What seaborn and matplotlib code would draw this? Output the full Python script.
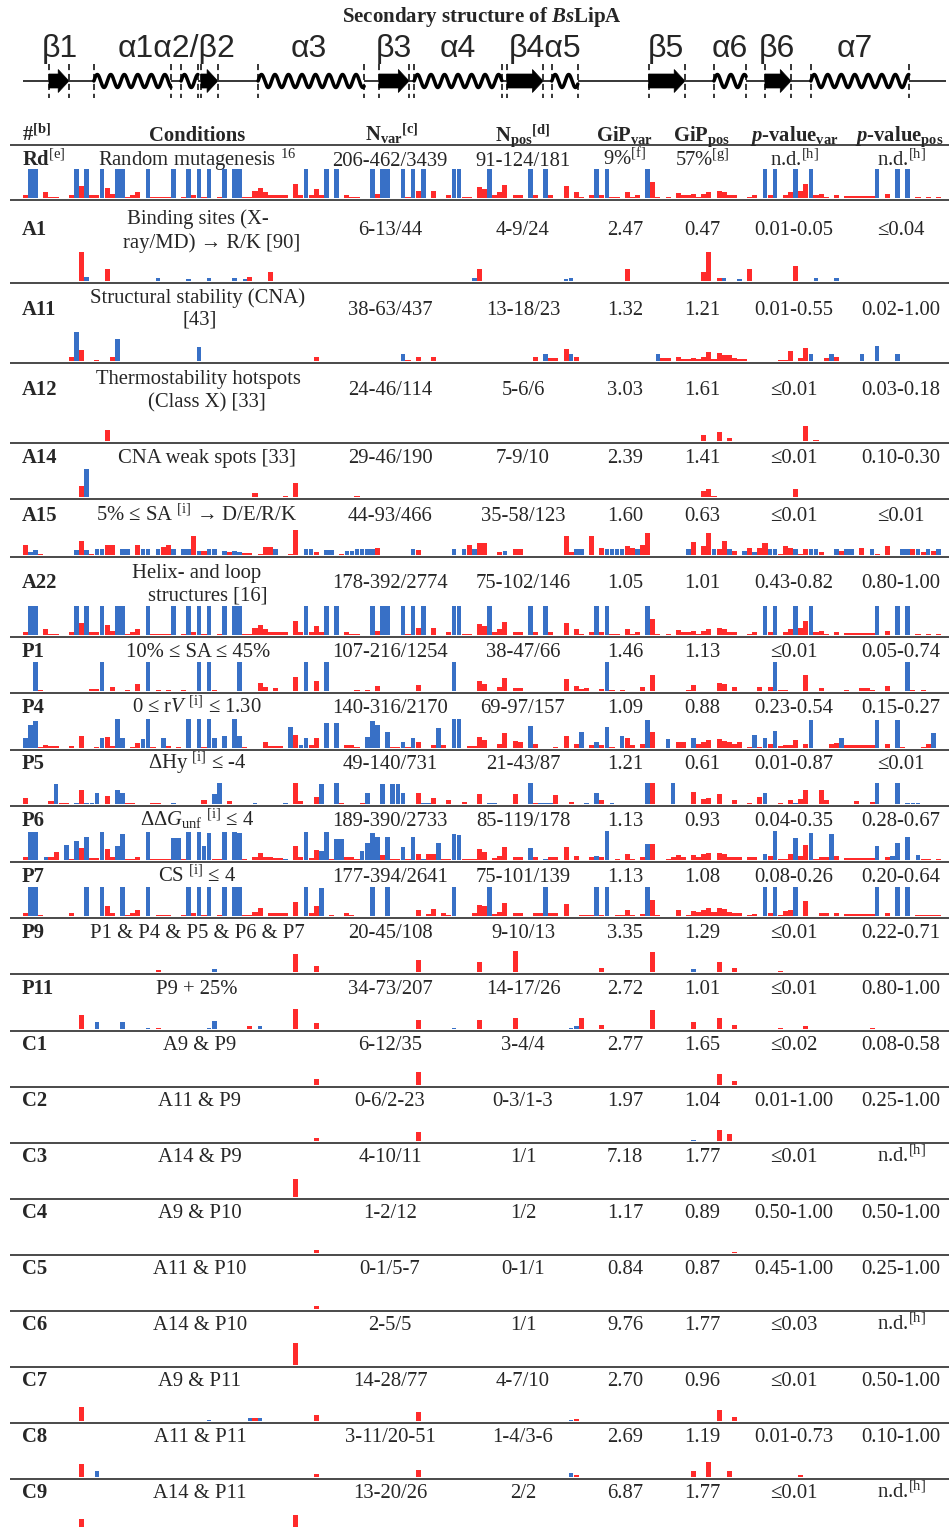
import numpy as np
import pandas as pd
import matplotlib
matplotlib.use("Agg")
import matplotlib.pyplot as plt
import seaborn as sns
from matplotlib.patches import Polygon

W, H = 949, 1527
sns.set_theme(style="white")
plt.rcParams["font.family"] = ["Liberation Serif", "DejaVu Serif"]
plt.rcParams["mathtext.fontset"] = "custom"
plt.rcParams["mathtext.rm"] = "Liberation Serif"
plt.rcParams["mathtext.it"] = "Liberation Serif:italic"
plt.rcParams["mathtext.bf"] = "Liberation Serif:bold"
HAS_BFIT = "mathtext.bfit" in matplotlib.rcParams.keys()
if HAS_BFIT:
    plt.rcParams["mathtext.bfit"] = "Liberation Serif:italic:bold"
PIT = r"\mathbfit{p}" if HAS_BFIT else r"\mathit{p}"
BSIT = r"\mathbfit{Bs}" if HAS_BFIT else r"\mathit{Bs}"

RED = "#FF2B2B"
BLUE = "#3870C6"
N_RES = 181
RESIDUES = np.arange(1, N_RES + 1)

# ---------------- secondary structure (residue numbers) ----------------
SS_TYPE = ["E", "H", "H", "E", "H", "E", "H", "E", "H", "E", "H", "E", "H"]
SS_START = [5.6, 14.4, 31.5, 35.4, 46.6, 70.3, 77.2, 95.4, 104.2, 123.2, 136.0, 146.0, 155.0]
SS_END = [9.5, 29.5, 34.8, 38.7, 67.4, 76.2, 94.4, 102.5, 109.3, 130.3, 142.3, 151.1, 174.2]
SS_LABELS = ["β1", "α1α2/β2", "α3", "β3", "α4", "β4α5", "β5", "α6", "β6", "α7"]
SS_LABEL_X = [60, 177, 309, 394, 458, 545, 666, 730, 777, 855]

# ---------------- table text ----------------
ROW_IDS = ["Rd", "A1", "A11", "A12", "A14", "A15", "A22", "P1", "P4", "P5", "P6", "P7",
           "P9", "P11", "C1", "C2", "C3", "C4", "C5", "C6", "C7", "C8", "C9"]
ROW_ID_SUP = ["[e]"] + [""] * 22
CONDITIONS = [
    [r"Random mutagenesis $^{\mathrm{16}}$"],
    ["Binding sites (X-", "ray/MD) → R/K [90]"],
    ["Structural stability (CNA)", "[43]"],
    ["Thermostability hotspots", "(Class X) [33]"],
    ["CNA weak spots [33]"],
    [r"5% ≤ SA $^{\mathrm{[i]}}$ → D/E/R/K"],
    ["Helix- and loop", "structures [16]"],
    ["10% ≤ SA ≤ 45%"],
    [r"0 ≤ r$\mathit{V}$ $^{\mathrm{[i]}}$ ≤ 1.30"],
    [r"ΔHy $^{\mathrm{[i]}}$ ≤ -4"],
    [r"ΔΔ$\mathit{G}_{\mathrm{unf}}$ $^{\mathrm{[i]}}$ ≤ 4"],
    [r"CS $^{\mathrm{[i]}}$ ≤ 4"],
    ["P1 & P4 & P5 & P6 & P7"],
    ["P9 + 25%"],
    ["A9 & P9"], ["A11 & P9"], ["A14 & P9"], ["A9 & P10"], ["A11 & P10"],
    ["A14 & P10"], ["A9 & P11"], ["A11 & P11"], ["A14 & P11"],
]
ND = r"n.d.$^{\mathrm{[h]}}$"
N_VAR = ["206-462/3439", "6-13/44", "38-63/437", "24-46/114", "29-46/190", "44-93/466",
         "178-392/2774", "107-216/1254", "140-316/2170", "49-140/731", "189-390/2733",
         "177-394/2641", "20-45/108", "34-73/207", "6-12/35", "0-6/2-23", "4-10/11",
         "1-2/12", "0-1/5-7", "2-5/5", "14-28/77", "3-11/20-51", "13-20/26"]
N_POS = ["91-124/181", "4-9/24", "13-18/23", "5-6/6", "7-9/10", "35-58/123", "75-102/146",
         "38-47/66", "69-97/157", "21-43/87", "85-119/178", "75-101/139", "9-10/13",
         "14-17/26", "3-4/4", "0-3/1-3", "1/1", "1/2", "0-1/1", "1/1", "4-7/10",
         "1-4/3-6", "2/2"]
GIP_VAR = [r"9%$^{\mathrm{[f]}}$", "2.47", "1.32", "3.03", "2.39", "1.60", "1.05", "1.46", "1.09",
           "1.21", "1.13", "1.13", "3.35", "2.72", "2.77", "1.97", "7.18", "1.17", "0.84",
           "9.76", "2.70", "2.69", "6.87"]
GIP_POS = [r"57%$^{\mathrm{[g]}}$", "0.47", "1.21", "1.61", "1.41", "0.63", "1.01", "1.13", "0.88",
           "0.61", "0.93", "1.08", "1.29", "1.01", "1.65", "1.04", "1.77", "0.89", "0.87",
           "1.77", "0.96", "1.19", "1.77"]
P_VAR = [ND, "0.01-0.05", "0.01-0.55", "≤0.01", "≤0.01", "≤0.01", "0.43-0.82",
         "≤0.01", "0.23-0.54", "0.01-0.87", "0.04-0.35", "0.08-0.26", "≤0.01", "≤0.01",
         "≤0.02", "0.01-1.00", "≤0.01", "0.50-1.00", "0.45-1.00", "≤0.03", "≤0.01",
         "0.01-0.73", "≤0.01"]
P_POS = [ND, "≤0.04", "0.02-1.00", "0.03-0.18", "0.10-0.30", "≤0.01", "0.80-1.00",
         "0.05-0.74", "0.15-0.27", "≤0.01", "0.28-0.67", "0.20-0.64", "0.22-0.71",
         "0.80-1.00", "0.08-0.58", "0.25-1.00", ND, "0.50-1.00", "0.25-1.00",
         ND, "0.50-1.00", "0.10-1.00", ND]

# ---------------- per-residue bar heights (residue, relative height) ----------------
RD_BLUE = [(r, 1.0) for r in [2, 3, 11, 13, 16, 19, 20, 25, 30, 33, 35, 37, 40, 42, 43, 56, 60,
                               62, 69, 71, 72, 75, 77, 79, 85, 86, 92, 100, 103, 113, 115, 123,
                               146, 148, 152, 155, 168, 172, 174]]
RD_RED = [(1, .1), (5, .2), (6, .05), (7, .05), (10, .1), (12, .4), (14, .1), (15, .1), (17, .35),
          (18, .15), (21, .05), (22, .1), (23, .22), (26, .03), (27, .03), (28, .03), (29, .03),
          (32, .05), (34, .1), (36, .05), (39, .05), (44, .05), (45, .05), (46, .25), (47, .35),
          (48, .2), (49, .1), (50, .1), (51, .1), (52, .1), (54, .48), (55, .1), (57, .1),
          (58, .3), (59, .1), (64, .1), (65, .05), (66, .05), (70, .15), (76, .05), (78, .25),
          (81, .25), (84, .1), (87, .05), (88, .05), (90, .37), (91, .3), (93, .1), (94, .2),
          (95, .45), (97, .1), (98, .1), (101, .1), (104, .1), (107, .4), (109, .2), (110, .05),
          (112, .1), (114, .1), (116, .05), (117, .05), (119, .2), (120, .05), (121, .1),
          (124, .55), (125, .05), (127, .05), (129, .17), (130, .1), (131, .1), (132, .15),
          (133, .05), (134, .15), (135, .2), (137, .25), (138, .2), (139, .1), (140, .1),
          (143, .05), (144, .1), (147, .1), (150, .1), (151, .2), (153, .25), (154, .5),
          (156, .1), (157, .15), (158, .05), (160, .1), (162, .06), (163, .06), (164, .06),
          (165, .08), (166, .06), (167, .06), (170, .15), (176, .05), (178, .05), (180, .03)]
A1_BLUE = [(13, .13), (27, .1), (33, .07), (37, .1), (42, .1), (44, .07), (89, .1), (107, .07),
           (108, .1), (138, .1), (141, .07), (156, .1), (160, .1)]
A1_RED = [(12, 1.0), (17, .42), (45, .13), (49, .31), (90, .42), (119, .42), (134, .3),
          (135, 1.0), (137, .1), (143, .42), (152, .53)]
A11_BLUE = [(11, 1.0), (19, .75), (35, .5), (75, .25), (103, .25), (108, .25), (125, .25),
            (155, .25), (159, .25), (165, .25), (168, .52), (172, .25)]
A11_RED = [(10, .15), (12, .39), (15, .02), (18, .15), (58, .15), (76, .03), (78, .15), (81, .15),
           (101, .15), (104, .12), (105, .12), (107, .41), (109, .15), (126, .1), (127, .1),
           (129, .15), (130, .08), (131, .08), (132, .12), (133, .08), (134, .15), (135, .3),
           (136, .08), (137, .28), (138, .22), (139, .2), (140, .1), (141, .08), (142, .08),
           (149, .05), (150, .05), (151, .35), (153, .1), (154, .45), (158, .12), (160, .15)]
A12_BLUE = []
A12_RED = [(17, .37), (134, .22), (137, .3), (139, .12), (154, .52), (156, .03)]
A14_BLUE = [(13, .97)]
A14_RED = [(12, .39), (46, .15), (52, .03), (54, .48), (66, .03), (134, .22), (135, .27),
           (136, .05), (152, .28)]
A15_BLUE = [(2, .12), (3, .17), (11, .17), (13, .17), (15, .2), (16, .2), (20, .2), (21, .2),
            (24, .2), (25, .2), (27, .2), (30, .2), (32, .2), (33, .2), (35, .15), (37, .2),
            (38, .2), (40, .13), (42, .15), (43, .1), (50, .2), (56, .2), (57, .2), (60, .17),
            (61, .17), (64, .13), (65, .13), (66, .2), (67, .2), (68, .2), (69, .2), (77, .2),
            (85, .2), (87, .2), (89, .2), (95, .15), (109, .2), (110, .2), (115, .2), (116, .2),
            (117, .2), (118, .2), (121, .2), (131, .2), (136, .2), (139, .2), (142, .15),
            (144, .1), (147, .2), (148, .2), (152, .2), (155, .2), (156, .2), (160, .2),
            (162, .2), (163, .2), (167, .2), (173, .2), (174, .2), (176, .2), (178, .2), (180, .2)]
A15_RED = [(1, .36), (4, .05), (12, .5), (14, .05), (17, .35), (18, .35), (23, .33), (28, .27),
           (29, .35), (34, .67), (36, .15), (41, .12), (44, .07), (45, .07), (47, .05), (48, .27),
           (49, .27), (53, .05), (54, .86), (58, .12), (63, .05), (70, .25), (78, .17), (88, .35),
           (90, .4), (91, .4), (94, .1), (97, .22), (98, .22), (107, .67), (108, .1), (112, .67),
           (114, .25), (119, .3), (120, .25), (122, .33), (123, .75), (132, .45), (134, .3),
           (135, .75), (137, .2), (138, .5), (140, .15), (143, .25), (145, .25), (146, .42),
           (149, .05), (150, .3), (151, .25), (153, .05), (154, .2), (157, .1), (161, .13),
           (165, .25), (168, .05), (170, .3), (175, .2), (177, .1), (179, .15)]
A22_BLUE = RD_BLUE
A22_RED = RD_RED
P1_BLUE = [(3, 1.0), (16, 1.0), (25, 1.0), (35, 1.0), (37, 1.0), (43, 1.0), (56, 1.0), (60, 1.0),
           (85, 1.0), (115, 1.0), (148, 1.0), (174, 1.0)]
P1_RED = [(4, .03), (14, .07), (15, .07), (18, .13), (21, .03), (23, .23), (27, .05), (29, .05),
          (32, .05), (38, .03), (47, .28), (48, .13), (50, .1), (54, .5), (58, .33), (66, .03),
          (68, .03), (70, .17), (78, .22), (90, .33), (91, .25), (94, .15), (95, .45), (97, .1),
          (98, .1), (107, .42), (109, .17), (110, .08), (111, .1), (114, .07), (116, .03),
          (118, .05), (122, .13), (124, .55), (131, .05), (132, .2), (137, .28), (138, .25),
          (140, .15), (145, .15), (147, .15), (149, .05), (150, .05), (154, .55), (157, .1),
          (162, .03), (165, .1), (166, .1), (167, .05), (170, .17), (175, .03), (177, .03)]
P4_BLUE = [(1, .33), (2, .8), (3, .93), (16, .33), (19, 1.0), (20, .33), (24, .3), (25, 1.0),
           (28, .33), (33, 1.0), (35, 1.0), (37, 1.0), (38, .33), (40, .43), (42, 1.0), (43, .4),
           (53, .72), (55, .1), (56, .33), (60, .85), (62, .85), (68, .38), (69, .93), (70, .78),
           (72, .55), (75, .22), (77, .33), (82, .7), (85, 1.0), (86, 1.0), (100, .75),
           (110, .55), (113, .22), (115, .72), (118, .42), (123, .95), (127, .3), (132, .33),
           (144, .45), (146, .35), (148, .6), (155, .95), (161, .33), (168, .95), (172, .95),
           (179, .52)]
P4_RED = [(4, .03), (5, .1), (6, .07), (7, .07), (10, .08), (12, .4), (15, .05), (17, .38),
          (18, .07), (22, .05), (23, .17), (26, .05), (29, .07), (31, .03), (36, .03), (44, .03),
          (48, .22), (49, .07), (50, .07), (51, .07), (54, .45), (57, .1), (58, .33), (64, .1),
          (65, .1), (66, .03), (73, .03), (74, .03), (76, .03), (78, .22), (81, .1), (83, .1),
          (88, .07), (89, .07), (90, .38), (91, .28), (94, .15), (95, .52), (97, .25), (98, .2),
          (101, .15), (105, .05), (107, .42), (109, .13), (112, .1), (114, .1), (116, .03),
          (119, .33), (120, .12), (122, .13), (124, .55), (129, .2), (130, .2), (133, .13),
          (134, .2), (135, .28), (137, .3), (138, .25), (139, .2), (140, .13), (141, .2),
          (143, .05), (145, .05), (147, .13), (149, .07), (150, .12), (151, .12), (152, .28),
          (154, .13), (159, .15), (160, .17), (162, .1), (163, .1), (164, .1), (165, .1),
          (166, .1), (167, .1), (170, .15), (173, .05), (177, .05), (178, .15)]
P5_BLUE = [(7, .7), (11, .05), (13, .05), (14, .05), (15, .38), (19, .5), (20, .38), (30, .05),
           (38, .33), (39, .72), (46, .05), (52, .05), (59, .7), (62, .72), (68, .38), (71, .7),
           (73, .7), (74, .7), (75, .38), (79, .05), (80, .05), (92, .05), (93, .05), (100, .72),
           (102, .05), (103, .05), (104, .05), (111, .05), (113, .38), (116, .05), (123, .72),
           (128, .72), (146, .38), (152, .05), (168, .72), (172, .72), (174, .05), (175, .05),
           (176, .05)]
P5_RED = [(1, .22), (6, .1), (8, .05), (9, .05), (12, .5), (17, .27), (21, .05), (22, .05),
          (26, .05), (27, .05), (36, .13), (41, .1), (54, .72), (55, .1), (58, .25), (63, .03),
          (67, .03), (78, .38), (81, .2), (84, .15), (87, .07), (90, .33), (97, .33), (101, .05),
          (105, .3), (108, .07), (114, .13), (124, .72), (132, .4), (134, .17), (135, .2),
          (137, .33), (140, .13), (143, .05), (145, .25), (149, .05), (151, .13), (153, .17),
          (154, .5), (157, .5), (158, .15), (164, .12), (167, .07)]
P6_BLUE = [(2, .97), (3, .97), (5, .1), (9, .52), (11, .65), (13, .8), (16, .97), (19, .5),
           (20, .9), (25, .97), (30, .77), (31, .77), (33, .97), (35, .97), (36, .5), (37, .93),
           (40, .97), (42, .97), (43, .93), (52, .05), (56, .97), (59, .3), (60, .97), (62, .72),
           (63, .72), (67, .3), (68, .6), (69, .93), (70, .8), (72, .8), (75, .45), (77, .8),
           (79, .05), (82, .6), (85, .9), (86, .85), (100, .42), (103, .03), (113, .15),
           (115, 1.0), (123, .55), (146, .22), (148, 1.0), (152, .77), (155, .93), (159, .9),
           (168, .47), (171, .15), (172, .6), (174, .8), (176, .17)]
P6_RED = [(1, .1), (6, .1), (7, .27), (10, .05), (12, .42), (14, .07), (15, .07), (17, .38),
          (18, .1), (21, .05), (22, .05), (23, .1), (26, .05), (27, .05), (28, .05), (29, .05),
          (32, .05), (38, .05), (39, .05), (44, .05), (46, .1), (47, .25), (48, .12), (49, .12),
          (50, .07), (51, .07), (54, .5), (55, .1), (57, .07), (58, .33), (61, .05), (64, .1),
          (65, .1), (66, .05), (71, .17), (73, .05), (74, .05), (76, .05), (78, .22), (80, .22),
          (81, .2), (83, .05), (84, .05), (87, .05), (88, .05), (89, .05), (90, .38), (91, .28),
          (93, .07), (94, .15), (95, .45), (97, .12), (98, .12), (101, .1), (104, .1), (105, .1),
          (107, .45), (109, .13), (112, .1), (114, .12), (117, .05), (119, .22), (120, .05),
          (122, .12), (124, .55), (127, .05), (128, .1), (129, .17), (130, .1), (132, .17),
          (133, .1), (134, .2), (135, .25), (137, .25), (138, .2), (139, .12), (140, .12),
          (141, .12), (143, .1), (144, .1), (147, .15), (149, .05), (150, .05), (151, .2),
          (153, .13), (154, .52), (156, .05), (157, .12), (158, .12), (160, .13), (162, .06),
          (163, .06), (164, .06), (165, .06), (166, .06), (167, .06), (170, .12), (177, .05),
          (178, .05), (180, .03)]
P7_BLUE = [(r, 1.0) for r in [2, 3, 13, 16, 20, 25, 33, 35, 37, 40, 42, 43, 56, 69, 72, 85, 92,
                               103, 113, 115, 123, 146, 148, 152, 168, 172, 174]] + [(59, .95)]
P7_RED = [(1, .1), (4, .03), (10, .1), (17, .35), (18, .1), (21, .03), (22, .1), (23, .2),
          (27, .05), (28, .05), (29, .05), (32, .05), (34, .1), (36, .05), (39, .05), (44, .05),
          (45, .05), (46, .15), (47, .27), (49, .1), (50, .1), (51, .1), (52, .1), (54, .5),
          (57, .1), (58, .33), (61, .03), (64, .1), (65, .05), (78, .22), (80, .07), (81, .25),
          (83, .1), (84, .05), (89, .1), (90, .38), (91, .33), (93, .07), (94, .15), (95, .45),
          (97, .1), (98, .1), (101, .1), (102, .1), (104, .1), (105, .1), (107, .42), (110, .03),
          (111, .03), (112, .03), (114, .05), (117, .05), (118, .05), (119, .22), (120, .05),
          (122, .07), (124, .55), (125, .03), (129, .2), (131, .05), (132, .17), (133, .13),
          (134, .2), (135, .27), (136, .15), (137, .28), (138, .25), (139, .15), (140, .12),
          (141, .1), (143, .05), (144, .08), (147, .12), (149, .05), (150, .17), (151, .2),
          (154, .52), (157, .1), (158, .12), (160, .1), (162, .06), (163, .06), (164, .06),
          (165, .06), (166, .06), (167, .06), (170, .12), (176, .04), (177, .04), (178, .04),
          (179, .04), (180, .04)]
P9_BLUE = [(38, .1), (132, .1)]
P9_RED = [(27, .07), (54, .62), (58, .22), (78, .4), (90, .33), (97, .72), (114, .13),
          (124, .7), (137, .33), (140, .15), (149, .05)]
P11_BLUE = [(15, .25), (20, .25), (25, .05), (37, .05), (38, .27), (47, .1), (85, .05),
            (108, .05), (109, .1)]
P11_RED = [(12, .47), (27, .05), (45, .12), (54, .7), (58, .22), (78, .3), (90, .3), (97, .38),
           (110, .38), (114, .13), (124, .65), (132, .25), (137, .38), (140, .15), (149, .03),
           (154, .12), (167, .05)]
C1_BLUE = []
C1_RED = [(58, .2), (78, .45), (137, .38), (140, .15)]
C2_BLUE = [(132, .05)]
C2_RED = [(58, .1), (78, .3), (137, .38), (139, .25)]
C3_BLUE = []
C3_RED = [(54, .62)]
C4_BLUE = []
C4_RED = [(58, .1), (140, .03)]
C5_BLUE = []
C5_RED = [(58, .1)]
C6_BLUE = []
C6_RED = [(54, .75)]
C7_BLUE = [(37, .05), (45, .1), (47, .1), (108, .05)]
C7_RED = [(12, .5), (46, .12), (58, .2), (78, .3), (109, .08), (137, .38), (140, .15)]
C8_BLUE = [(15, .2), (108, .15)]
C8_RED = [(12, .45), (58, .1), (78, .25), (109, .08), (132, .2), (135, .52), (139, .2), (153, .07)]
C9_BLUE = []
C9_RED = [(12, .5), (54, .62)]

ROW_BARS = [(RD_BLUE, RD_RED), (A1_BLUE, A1_RED), (A11_BLUE, A11_RED), (A12_BLUE, A12_RED),
            (A14_BLUE, A14_RED), (A15_BLUE, A15_RED), (A22_BLUE, A22_RED), (P1_BLUE, P1_RED),
            (P4_BLUE, P4_RED), (P5_BLUE, P5_RED), (P6_BLUE, P6_RED), (P7_BLUE, P7_RED),
            (P9_BLUE, P9_RED), (P11_BLUE, P11_RED), (C1_BLUE, C1_RED), (C2_BLUE, C2_RED),
            (C3_BLUE, C3_RED), (C4_BLUE, C4_RED), (C5_BLUE, C5_RED), (C6_BLUE, C6_RED),
            (C7_BLUE, C7_RED), (C8_BLUE, C8_RED), (C9_BLUE, C9_RED)]

# ---------------- layout (pixels) ----------------
FS = 14.9
ROW_BASE = [166, 235, 315, 395, 463, 521, 588, 657, 713, 769, 826, 882, 938, 994,
            1050, 1106, 1162, 1218, 1274, 1330, 1386, 1442, 1498]
COND_POS = [[(197, 166)], [(198, 224), (212, 248)], [(198, 303), (200, 325)],
            [(198, 384), (207, 407)], [(207, 463)], [(197, 521)], [(197, 578), (208, 601)],
            [(198, 657)], [(197, 713)], [(197, 769)], [(197, 826)], [(197, 882)],
            [(197, 938)], [(197, 994)]] + [[(200, b)] for b in ROW_BASE[14:]]
LINE_Y = [145, 200, 283, 363, 443, 499, 557, 637, 693, 750, 806, 862, 918, 974, 1031,
          1087, 1143, 1199, 1255, 1311, 1367, 1423, 1479]
BAR_BASE = [198, 281, 361, 441, 497, 555, 635, 691, 748, 804, 860, 916, 972, 1029,
            1085, 1141, 1197, 1253, 1309, 1365, 1421, 1477, 1533]
BAR_UNIT = 29
COLS_X = [390, 523, 625, 702, 794, 901]
AX_L, AX_W = 23, 923

fig = plt.figure(figsize=(W / 100, H / 100), dpi=100)
fig.patch.set_facecolor("white")
ax0 = fig.add_axes([0, 0, 1, 1])
ax0.set_xlim(0, W)
ax0.set_ylim(H, 0)
ax0.axis("off")

# title + SS labels
ax0.text(482, 22, r"Secondary structure of $" + BSIT + r"$LipA", fontsize=15,
         fontweight="bold", ha="center", va="baseline")
for lab, x in zip(SS_LABELS, SS_LABEL_X):
    ax0.text(x, 57, lab, fontsize=23, family="Liberation Sans", ha="center", va="baseline")

# secondary structure track
sax = fig.add_axes([AX_L / W, 1 - 110 / H, AX_W / W, 110 / H])
sax.set_xlim(0.5, N_RES + 0.5)
sax.set_ylim(110, 0)
sax.axis("off")
YL = 81
edges = [0.5]
for s, e in zip(SS_START, SS_END):
    edges += [s, e]
edges.append(N_RES + 0.5)
for i in range(0, len(edges), 2):
    sax.plot([edges[i], edges[i + 1]], [YL, YL], color="black", lw=1.1, solid_capstyle="butt")
for t, s, e in zip(SS_TYPE, SS_START, SS_END):
    for b in (s, e):
        sax.plot([b, b], [64, 98], color="black", lw=1.1, ls=(0, (4, 2.5)))
    if t == "H":
        xs = np.linspace(s, e, 300)
        ys = YL - 6.5 * np.sin(2 * np.pi * (xs - s) / 2.65)
        sax.plot(xs, ys, color="black", lw=2.5, solid_capstyle="round")
    else:
        hl = 2.1
        pts = [(s, YL - 7), (e - hl, YL - 7), (e - hl, YL - 11.5), (e, YL),
               (e - hl, YL + 11.5), (e - hl, YL + 7), (s, YL + 7)]
        sax.add_patch(Polygon(pts, closed=True, facecolor="black", edgecolor="black", lw=0.5))

# header
ax0.text(22, 141, r"#$^{\mathbf{[b]}}$", fontsize=FS, fontweight="bold", ha="left", va="baseline")
ax0.text(197, 141, "Conditions", fontsize=FS, fontweight="bold", ha="center", va="baseline")
HEADERS = [r"$\mathbf{N}_{\mathbf{var}}{}^{\mathbf{[c]}}$", r"$\mathbf{N}_{\mathbf{pos}}{}^{\mathbf{[d]}}$",
           r"$\mathbf{GiP}_{\mathbf{var}}$", r"$\mathbf{GiP}_{\mathbf{pos}}$",
           r"$" + PIT + r"$-value$_{\mathbf{var}}$", r"$" + PIT + r"$-value$_{\mathbf{pos}}$"]
HEAD_X = [392, 523, 625, 702, 794, 899]
for s, x in zip(HEADERS, HEAD_X):
    ax0.text(x, 141, s, fontsize=FS, fontweight="bold", ha="center", va="baseline")

for y in LINE_Y:
    ax0.plot([10, W], [y, y], color="#4a4a4a", lw=1.4, solid_capstyle="butt")

# rows text
for i, rid in enumerate(ROW_IDS):
    yb = ROW_BASE[i]
    lab = rid + (r"$^{\mathrm{" + ROW_ID_SUP[i] + "}}$" if ROW_ID_SUP[i] else "")
    ax0.text(22, yb, lab, fontsize=FS, fontweight="bold", ha="left", va="baseline")
    for txt, (x, y) in zip(CONDITIONS[i], COND_POS[i]):
        ax0.text(x, y, txt, fontsize=FS, ha="center", va="baseline")
    for col, x in zip([N_VAR, N_POS, GIP_VAR, GIP_POS, P_VAR, P_POS], COLS_X):
        ax0.text(x, yb, col[i], fontsize=FS, ha="center", va="baseline")


def full_heights(pairs):
    h = np.zeros(N_RES)
    for r, v in pairs:
        h[r - 1] = v
    return h


# bar tracks
for i, (blue, red) in enumerate(ROW_BARS):
    base = BAR_BASE[i]
    ax = fig.add_axes([AX_L / W, 1 - base / H, AX_W / W, BAR_UNIT / H])
    sns.barplot(x=RESIDUES, y=full_heights(red), color=RED, saturation=1, width=1.0,
                native_scale=True, errorbar=None, linewidth=0, ax=ax)
    sns.barplot(x=RESIDUES, y=full_heights(blue), color=BLUE, saturation=1, width=0.9,
                native_scale=True, errorbar=None, linewidth=0, ax=ax)
    ax.set_xlim(0.5, N_RES + 0.5)
    ax.set_ylim(0, 1)
    ax.axis("off")

fig.savefig("out.png", dpi=100, facecolor="white")
